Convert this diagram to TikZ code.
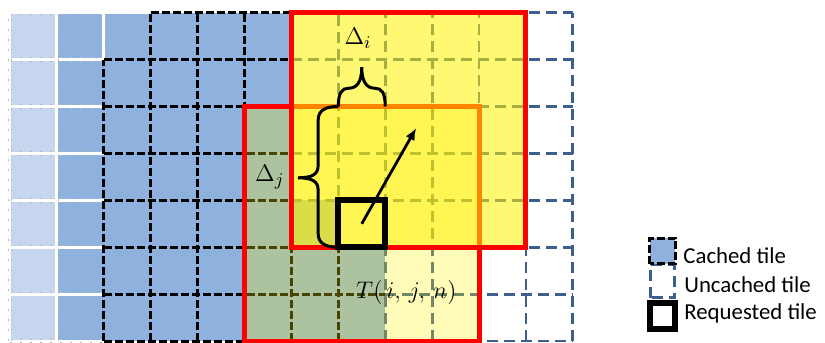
\documentclass[tikz,border=0pt]{standalone}
\usepackage[no-math]{fontspec}
\newfontfamily\legendfont{Carlito}
\usepackage{tikz}
\usetikzlibrary{arrows.meta}

\definecolor{tileblue}{HTML}{8EB1DE}
\definecolor{tilefade}{HTML}{C6D6EE}
\definecolor{gridblue}{HTML}{3C5F8F}

\begin{document}
\begin{tikzpicture}[x=23.45pt, y=23.45pt,
    cachedline/.style={draw=black, line width=1.5pt, dash pattern=on 4pt off 1.5pt},
    uncachedline/.style={draw=gridblue, line width=1.4pt, dash pattern=on 5.5pt off 3pt},
    fadeline/.style={draw=white, line width=1.4pt, solid},
    fadetick/.style={draw=gray!55, line width=2.2pt, dash pattern=on 0.8pt off 4.2pt, postaction={fadeline}},
    region/.style={draw=red, line width=2.5pt},
    request/.style={draw=black, line width=3pt},
    bracket/.style={black, line width=1.5pt},
    pointer/.style={-{Latex[length=6pt, width=5pt]}, line width=1.4pt},
    mathlabel/.style={font=\fontsize{13}{15}\selectfont, inner sep=0pt},
    legendtext/.style={font=\legendfont\fontsize{11.4}{14}\selectfont, anchor=base west, inner sep=0pt}]
  \useasboundingbox (-0.213,-0.021) rectangle (17.377,7.271);

  % Cached tiles
  \fill[tilefade] (0,0) rectangle (1,7);
  \fill[tileblue] (1,0) rectangle (6,7);
  \fill[tileblue] (6,0) rectangle (7,3);
  \fill[tileblue] (7,0) rectangle (8,2);

  % Faded borders on the left
  \foreach \y in {0,...,7}
    \draw[fadetick] (0,\y) -- (2,\y);
  \draw[fadetick] (2,7) -- (3,7);
  \foreach \x in {0,1}
    \draw[fadetick] (\x,0) -- (\x,7);
  \draw[fadetick] (2,6) -- (2,7);

  % Cached tile borders
  \foreach \y in {2,...,6}
    \draw[cachedline] (2,\y) -- (6,\y);
  \foreach \y in {0,1}
    \draw[cachedline] (2,\y) -- (8,\y);
  \draw[cachedline] (3,7) -- (6,7);
  \draw[cachedline] (2,0) -- (2,6);
  \foreach \x in {3,...,6}
    \draw[cachedline] (\x,0) -- (\x,7);
  \draw[cachedline] (7,0) -- (7,2);

  % Uncached tile borders
  \foreach \y in {2,...,7}
    \draw[uncachedline] (6,\y) -- (12,\y);
  \foreach \y in {0,1}
    \draw[uncachedline] (8,\y) -- (12,\y);
  \draw[uncachedline] (7,2) -- (7,7);
  \foreach \x in {8,...,12}
    \draw[uncachedline] (\x,0) -- (\x,7);

  % Prefetch regions
  \filldraw[region, fill=yellow, fill opacity=0.28] (5,0) rectangle (10,5);
  \filldraw[region, fill=yellow, fill opacity=0.55] (6,2) rectangle (11,7);

  % Braces
  \draw[bracket] (7,5) .. controls (7,5.3) and (7.08,5.39) .. (7.22,5.39)
    .. controls (7.38,5.39) and (7.5,5.5) .. (7.5,5.84)
    .. controls (7.5,5.5) and (7.62,5.39) .. (7.78,5.39)
    .. controls (7.92,5.39) and (8,5.3) .. (8,5);
  \draw[bracket] (7,2) .. controls (6.72,2) and (6.57,2.08) .. (6.57,2.3) -- (6.57,3.22)
    .. controls (6.57,3.4) and (6.45,3.48) .. (6.14,3.48)
    .. controls (6.45,3.48) and (6.57,3.56) .. (6.57,3.74) -- (6.57,4.7)
    .. controls (6.57,4.92) and (6.72,5) .. (7,5);
  \node[mathlabel] (deltai) at (7.42,6.46) {$\Delta_i$};
  \node[mathlabel] (deltaj) at (5.54,3.50) {$\Delta_j$};

  % Requested tile
  \node[request, minimum size=23.45pt, inner sep=0pt] (req) at (7.5,2.5) {};
  \coordinate (dest) at (8.66,4.54);
  \draw[pointer] (req.center) -- (dest);
  \node[mathlabel] (tile) at (8.45,1.045) {$T\bigl(\,i,\,j,\,n\bigr)$};

  % Legend
  \draw[uncachedline] (13.65,0.92) rectangle (14.17,1.62);
  \filldraw[cachedline, fill=tileblue] (13.635,1.645) rectangle (14.185,2.195);
  \filldraw[request, fill=white] (13.635,0.26) rectangle (14.185,0.81);
  \node[legendtext] (keycached) at (14.35,1.66) {Cached tile};
  \node[legendtext] (keyuncached) at (14.37,1.045) {Uncached tile};
  \node[legendtext] (keyrequest) at (14.37,0.45) {Requested tile};
\end{tikzpicture}
\end{document}
